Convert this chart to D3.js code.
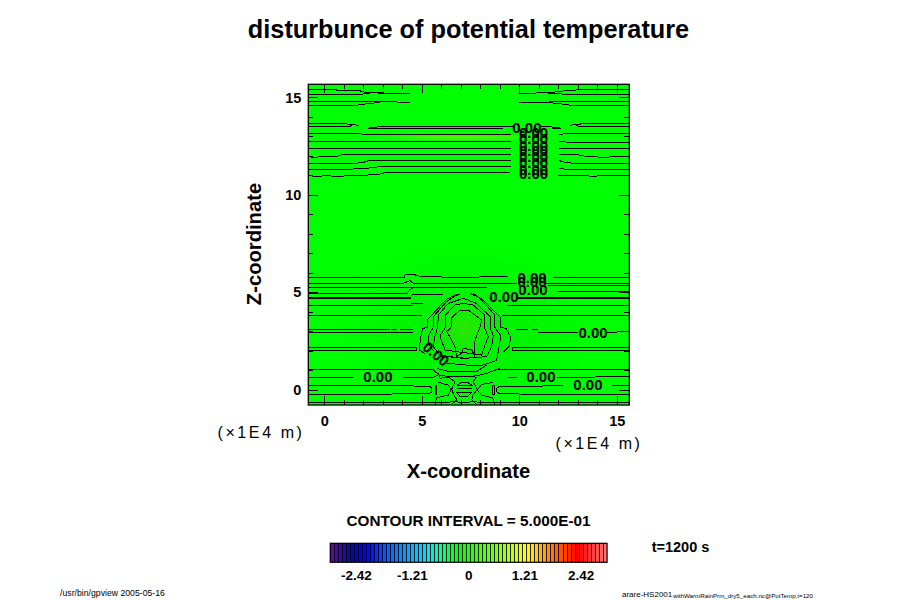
<!DOCTYPE html>
<html><head><meta charset="utf-8">
<script src="https://cdnjs.cloudflare.com/ajax/libs/d3/7.8.5/d3.min.js"></script>
<style>html,body{margin:0;padding:0;background:#fff}svg{display:block}text{font-family:"Liberation Sans",Arial,sans-serif;fill:#000}</style>
</head><body><svg id="c" width="900" height="600"></svg>
<script>
const titleText = "disturbunce of potential temperature";
const xLabel = "X-coordinate", zLabel = "Z-coordinate", unitText = "(×1E4 m)";
const intervalText = "CONTOUR INTERVAL = 5.000E-01", timeText = "t=1200 s";
const footLeft = "/usr/bin/gpview 2005-05-16", footRight = "arare-HS2001", footRightSub = "withWarmRainPrm_dry5_each.nc@PotTemp,t=120";
const xDomain = [-0.82, 15.64], zDomain = [15.67, -0.78];
const xMajor = [0, 5, 10, 15], xMinor = [1,2,3,4,6,7,8,9,11,12,13,14];
const zMajor = [0, 5, 10, 15], zMinor = [1,2,3,4,6,7,8,9,11,12,13,14];

// contour polylines, [x, z] in data units — upper atmosphere
const upperContours = [
 [[-0.82,15.41],[0.63,15.41],[0.63,15.36],[1.83,15.36],[1.88,15.29],[2.43,15.24],[3.2,15.2],[4.39,15.2]],
 [[-0.82,15.15],[1.83,15.15],[2.43,15.24],[3.2,15.22]],
 [[9.95,15.2],[11.49,15.24],[12.0,15.29],[12.51,15.36],[13.71,15.41],[15.64,15.41]],
 [[11.49,15.22],[12.51,15.15],[15.64,15.15]],
 [[-0.82,14.79],[2.85,14.79],[4.39,14.74]],
 [[-0.82,14.6],[1.66,14.6],[2.17,14.67],[2.85,14.74]],
 [[9.98,14.74],[11.49,14.74],[11.57,14.77],[15.64,14.79]],
 [[11.49,14.74],[12.17,14.66],[12.68,14.59],[15.64,14.59]],
 [[-0.82,13.67],[0.89,13.67],[1.4,13.6],[1.79,13.57]],
 [[-0.82,13.51],[1.32,13.51],[1.45,13.6]],
 [[12.6,13.57],[13.45,13.67],[15.64,13.67]],
 [[12.85,13.6],[13.08,13.51],[15.64,13.51]],
 [[2.72,13.49],[9.69,13.49]],
 [[11.66,13.49],[11.0,13.49]],
 [[2.26,13.4],[2.72,13.4],[9.15,13.4]],
 [[2.3,13.43],[2.68,13.43]],
 [[11.66,13.4],[12.12,13.4]],
 [[11.7,13.43],[12.1,13.43]],
 [[-0.82,13.15],[1.83,13.15],[1.91,13.1],[9.56,13.1]],
 [[12.05,13.1],[12.51,13.15],[15.64,13.15]],
 [[-0.82,12.74],[1.83,12.74],[9.56,12.74]],
 [[12.05,12.74],[12.6,12.69],[15.64,12.69]],
 [[-0.82,12.38],[9.56,12.38]],
 [[12.05,12.38],[15.64,12.38]],
 [[-0.82,11.96],[-0.53,11.92],[-0.05,11.97],[0.63,11.97],[0.97,12.07],[9.56,12.07]],
 [[12.05,12.07],[12.94,12.07],[13.45,11.97],[14.44,11.92],[15.0,11.99],[15.64,11.99]],
 [[-0.82,11.61],[1.57,11.61],[2.17,11.7],[2.26,11.77],[9.56,11.77]],
 [[12.05,11.77],[12.17,11.7],[12.8,11.61],[15.64,11.61]],
 [[-0.82,11.3],[0.8,11.3],[1.88,11.34],[2.65,11.41],[2.77,11.46],[9.56,11.46]],
 [[12.05,11.36],[12.51,11.29],[15.64,11.29]],
 [[-0.82,11.0],[-0.53,10.95],[0.21,10.98],[0.46,10.95],[0.97,10.95],[1.06,10.98],[2.68,11.03],[2.94,11.08],[3.11,11.15],[9.52,11.15]],
 [[12.0,10.98],[13.37,10.98],[13.79,10.95],[14.14,10.98],[14.91,10.97],[15.64,10.98]]
];
// contour polylines around the warm-rain layer
const lowerContours = [
 [[-0.82,5.77],[4.09,5.77],[4.14,5.9],[4.65,5.9],[4.77,5.84],[6.36,5.77],[9.44,5.8]],
 [[11.74,5.77],[15.64,5.77]],
 [[-0.82,5.46],[4.05,5.46],[4.39,5.6],[4.56,5.46],[5.5,5.46],[9.86,5.46]],
 [[11.32,5.46],[15.64,5.46]],
 [[-0.82,5.25],[4.26,5.25],[8.32,5.25]],
 [[11.49,5.34],[15.64,5.34]],
 [[-0.82,4.96],[4.26,4.96],[4.39,5.15],[4.56,5.22]],
 [[11.91,5.03],[15.64,5.03]],
 [[-0.82,4.73],[4.43,4.73]],
 [[-0.82,4.69],[4.43,4.69]],
 [[9.86,4.73],[15.64,4.73]],
 [[9.86,4.69],[15.64,4.69]],
 [[3.62,4.66],[4.05,4.66]],
 [[4.44,4.86],[6.1,4.9]],
 [[-0.82,4.31],[4.56,4.31]],
 [[4.43,4.43],[5.08,4.43]],
 [[9.35,4.31],[15.64,4.31]],
 [[-0.82,3.82],[4.99,3.82]],
 [[9.09,3.82],[15.64,3.82]],
 [[-0.82,3.07],[3.37,3.07]],
 [[-0.82,2.95],[4.56,2.95]],
 [[3.4,3.07],[3.71,3.07]],
 [[3.88,3.07],[4.56,3.07]],
 [[9.83,3.07],[10.46,3.07]],
 [[10.63,3.07],[10.97,3.07]],
 [[10.97,2.95],[13.03,2.95]],
 [[14.48,2.95],[15.64,2.98]],
 [[-0.82,2.16],[4.74,2.16],[4.74,1.99],[-0.82,1.99]],
 [[15.64,2.16],[9.64,2.16],[9.64,1.99],[15.64,1.99]],
 [[-0.82,1.02],[5.59,1.02],[5.85,0.79]],
 [[8.84,1.02],[15.64,1.02]],
 [[-0.82,0.64],[1.52,0.64]],
 [[4.05,0.64],[5.59,0.64],[5.85,0.76]],
 [[9.44,0.64],[9.86,0.64]],
 [[11.91,0.64],[15.64,0.67]],
 [[-0.82,0.21],[4.22,0.21],[5.42,0.16],[5.51,0.07],[5.51,-0.1],[5.42,-0.18],[3.71,-0.18],[3.28,-0.25],[-0.82,-0.25]],
 [[12.26,0.21],[8.96,0.16],[8.84,0.07],[8.84,-0.1],[8.96,-0.18],[10.97,-0.25],[15.64,-0.25]],
 [[14.74,0.21],[15.64,0.21]],
 [[-0.82,-0.66],[5.93,-0.66],[6.7,-0.61],[7.13,-0.66],[7.64,-0.61],[8.15,-0.66],[15.64,-0.66]]
];
// closed-ish rings of the warm bubble
const bubbleContours = [
 [[6.79,4.9],[6.27,4.64],[5.3,3.61],[5.3,3.2],[5.04,3.15],[4.94,2.69],[4.87,2.04],[5.16,1.87]],
 [[7.47,4.95],[8.12,4.64],[9.06,3.67],[9.06,3.2],[9.32,3.15],[9.56,2.69],[9.47,2.21],[9.2,1.95]],
 [[5.59,3.2],[5.59,3.75],[6.27,4.52],[6.7,4.81],[6.96,4.91]],
 [[7.64,4.95],[7.98,4.69],[8.75,3.84],[8.75,3.2],[9.06,2.76],[8.96,2.21],[8.84,1.53]],
 [[5.59,3.2],[5.33,2.76],[5.33,2.38],[5.6,2.0]],
 [[5.81,3.2],[5.85,3.84],[6.36,4.43],[7.13,4.69],[7.81,4.43],[8.5,3.75],[8.5,3.2],[8.67,2.76],[8.58,2.21],[8.32,1.7],[7.13,1.61],[5.93,1.78],[5.59,2.21],[5.68,2.76],[5.81,3.2]],
 [[6.22,3.2],[6.22,3.84],[6.7,4.35],[7.13,4.43],[7.64,4.35],[8.21,3.84],[8.21,3.2],[8.41,2.72],[8.15,2.04],[8.07,1.78],[6.19,2.04],[5.93,2.76],[6.22,3.2]],
 [[6.5,3.2],[6.5,3.67],[6.96,4.09],[7.38,4.09],[8.07,3.58],[7.98,3.2],[7.73,2.55],[7.69,1.78],[7.56,2.04],[7.13,2.13],[7.04,1.87],[6.79,1.7],[6.7,2.21],[6.44,2.72],[6.27,2.98],[6.5,3.2]],
 [[5.93,1.73],[6.79,1.66],[7.13,1.66]],
 [[6.27,1.36],[7.3,1.27],[8.15,1.27],[8.84,1.5]],
 [[5.76,1.1],[6.44,0.93],[7.81,0.93],[8.32,1.27]],
 [[5.85,0.76],[6.44,0.67],[7.81,0.71],[8.32,0.84],[9.01,1.1]],
 [[5.68,0.2],[5.76,0.2],[5.76,-0.24],[5.68,-0.24],[5.68,0.2]],
 [[8.62,0.2],[8.72,0.2],[8.72,-0.24],[8.62,-0.24],[8.62,0.2]],
 [[5.85,0.38],[6.36,0.24],[6.5,-0.01],[6.36,-0.27],[5.76,-0.41],[5.68,-0.75]],
 [[8.67,0.38],[8.07,0.28],[7.85,-0.01],[8.07,-0.27],[8.62,-0.41],[8.75,-0.75]],
 [[6.79,0.24],[7.05,0.38],[7.34,0.38],[7.56,0.24],[6.79,0.24]],
 [[6.79,0.07],[7.56,0.07]],
 [[6.79,-0.13],[7.56,-0.13],[7.34,-0.35],[6.96,-0.35],[6.79,-0.13]],
 [[6.36,0.67],[6.7,0.4],[6.53,0.02],[6.66,-0.27],[6.79,-0.52],[6.53,-0.75]],
 [[7.81,0.67],[7.63,0.4],[7.85,0.02],[7.63,-0.27],[7.56,-0.52],[7.81,-0.75]],
 [[5.85,0.84],[5.94,0.6],[6.36,0.62]]
];
// contour labels: x, z, text, rotation in degrees
const labelX = [2.75,11.11,13.52,13.78,9.21,10.65,10.65,10.7,5.73,10.39,10.73,10.73,10.73,10.73,10.73,10.73,10.73,10.73];
const labelZ = [0.66,0.66,0.25,2.91,4.76,5.73,5.55,5.12,1.84,13.43,13.17,12.86,12.55,12.25,11.94,11.63,11.32,11.07];
const labelAngle = [0,0,0,0,0,0,0,0,40,0,0,0,0,0,0,0,0,0];
const labelText = "0.00";
// faint shading of the field: x, z, rx, rz, colour, opacity
const shadeX = [7.2, 7.2, 7.0], shadeZ = [3.0, 3.2, 12.95], shadeRx = [6.5, 1.6, 5.0], shadeRz = [4.5, 1.6, 0.17];
const shadeColor = ["#00d800", "#30e800", "#70f000"], shadeOpacity = [0.5, 0.9, 0.9];

// colour bar
const barDomain = [-2.97, 2.99], barStep = 0.0864;
const barTicks = [-2.42, -1.21, 0, 1.21, 2.42];
const barStopValues = [-2.97,-2.56,-2.23,-1.8,-0.94,-0.59,-0.22,0.68,1.22,1.66,2.3,2.99];
const barStopColors = ["#5a0aa0","#0808a0","#0000ff","#0060ff","#00e0ff","#00ff90","#00ff00","#99ff00","#ffff00","#ff9900","#ff0000","#ff8080"];

const svg = d3.select("#c");
const L = 308.3, R = 629.3, T = 84.3, B = 405;
const x = d3.scaleLinear().domain(xDomain).range([L, R]);
const z = d3.scaleLinear().domain(zDomain).range([T, B]);
const defs = svg.append("defs");
defs.append("clipPath").attr("id","plot").append("rect").attr("x",L).attr("y",T).attr("width",R-L).attr("height",B-T);
shadeColor.forEach((c,i)=>{
  const g = defs.append("radialGradient").attr("id","sh"+i);
  g.append("stop").attr("offset","0%").attr("stop-color",c).attr("stop-opacity",shadeOpacity[i]);
  g.append("stop").attr("offset","100%").attr("stop-color",c).attr("stop-opacity",0);
});
const plot = svg.append("g").attr("clip-path","url(#plot)");
plot.append("rect").attr("x",L).attr("y",T).attr("width",R-L).attr("height",B-T).attr("fill","#00ff00");
plot.selectAll("ellipse").data(shadeX).join("ellipse")
  .attr("cx",(d)=>x(d)).attr("cy",(d,i)=>z(shadeZ[i]))
  .attr("rx",(d,i)=>x(shadeRx[i])-x(0)).attr("ry",(d,i)=>z(0)-z(shadeRz[i]))
  .attr("fill",(d,i)=>`url(#sh${i})`);
const line = d3.line().x(d=>x(d[0])).y(d=>z(d[1]));
plot.selectAll("path.c").data([...upperContours,...lowerContours,...bubbleContours]).join("path").attr("class","c")
  .attr("d",line).attr("fill","none").attr("stroke","#000").attr("stroke-width",1).attr("shape-rendering","crispEdges");
plot.selectAll("text.l").data(labelX).join("text").attr("class","l")
  .attr("transform",(d,i)=>`translate(${x(d)},${z(labelZ[i])}) rotate(${labelAngle[i]})`)
  .attr("text-anchor","middle").attr("dy","0.36em").attr("font-size",15).attr("font-weight","bold").text(labelText);

function tickAxis(gen, vals, size, pos, labelled, pad){
  const a = gen.tickValues(vals).tickSizeInner(-size).tickSizeOuter(0).tickPadding(pad||0)
     .tickFormat(labelled ? d3.format("d") : ()=>"");
  const g = svg.append("g").attr("transform",pos).call(a);
  g.select(".domain").remove();
  g.selectAll("line").attr("stroke","#000").attr("shape-rendering","crispEdges");
  g.selectAll("text").attr("font-size",14.5).attr("font-weight","bold").attr("font-family",'"Liberation Sans"');
}
tickAxis(d3.axisBottom(x), xMinor, 5, `translate(0,${B})`);
tickAxis(d3.axisBottom(x), xMajor, 9, `translate(0,${B})`, true, 11);
tickAxis(d3.axisTop(x), xMinor, 5, `translate(0,${T})`);
tickAxis(d3.axisTop(x), xMajor, 9, `translate(0,${T})`);
tickAxis(d3.axisLeft(z), zMinor, 5, `translate(${L},0)`);
tickAxis(d3.axisLeft(z), zMajor, 10, `translate(${L},0)`, true, 7);
tickAxis(d3.axisRight(z), zMinor, 5, `translate(${R},0)`);
tickAxis(d3.axisRight(z), zMajor, 10, `translate(${R},0)`);
svg.append("rect").attr("x",L).attr("y",T).attr("width",R-L).attr("height",B-T).attr("fill","none").attr("stroke","#000").attr("stroke-width",1.3);

function txt(s,px,py,size,weight,anchor,rot){
  return svg.append("text").attr("transform",`translate(${px},${py})`+(rot?` rotate(${rot})`:""))
    .attr("text-anchor",anchor||"middle").attr("font-size",size).attr("font-weight",weight||"normal").text(s);
}
txt(titleText,468.5,38,25.3,"bold");
txt(xLabel,468.5,478,20.2,"bold");
txt(zLabel,261,244,20.2,"bold","middle",-90);
txt(unitText,261,438,16).attr("letter-spacing",2.6);
txt(unitText,599,449,16).attr("letter-spacing",2.6);
txt(intervalText,468.5,526,15.3,"bold");
txt(timeText,680.5,552,14.5,"bold");
txt(footLeft,112.5,596,8.7);
txt(footRight,622,597,8,"normal","start");
txt(footRightSub,673,598,6.2,"normal","start");

// colour bar
const barX = d3.scaleLinear().domain([-1.21,1.21]).range([412,524.4]);
const barColor = d3.scaleLinear().domain(barStopValues).range(barStopColors);
const levels = d3.range(barDomain[0], barDomain[1], barStep);
const bar = svg.append("g");
bar.selectAll("rect").data(levels).join("rect")
  .attr("x",d=>barX(d)).attr("y",543.3).attr("width",d=>barX(d+barStep)-barX(d)).attr("height",19)
  .attr("fill",d=>barColor(d)).attr("stroke","none").attr("shape-rendering","crispEdges");
bar.selectAll("line").data(levels.slice(1)).join("line")
  .attr("x1",d=>barX(d)).attr("x2",d=>barX(d)).attr("y1",543.3).attr("y2",562.3)
  .attr("stroke","#000").attr("stroke-opacity",0.85).attr("stroke-width",1).attr("shape-rendering","crispEdges");
svg.append("rect").attr("x",barX(barDomain[0])).attr("y",543.3).attr("width",barX(barDomain[1])-barX(barDomain[0])).attr("height",19)
  .attr("fill","none").attr("stroke","#000").attr("stroke-width",1.2);
const barAxis = d3.axisBottom(barX).tickValues(barTicks).tickSize(0).tickPadding(8).tickFormat(d=>d===0?"0":d3.format(".2f")(d).replace("−","-"));
const bg = svg.append("g").attr("transform","translate(0,562.3)").call(barAxis);
bg.select(".domain").remove();
bg.selectAll("text").attr("font-size",13.5).attr("font-weight","bold").attr("font-family",'"Liberation Sans"');
</script></body></html>
